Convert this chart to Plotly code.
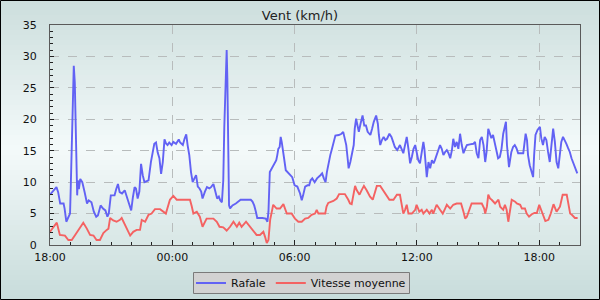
import pandas as pd
import plotly.graph_objects as go

# ---- data (minutes after 18:00, value km/h) ----
rafale_min = [0, 19, 24, 30, 40, 43, 48, 55, 59, 61, 64, 67, 70, 73, 75, 78, 80, 82, 85, 89, 95, 102, 109, 114, 122,
              129, 136, 141, 149, 156, 163, 169, 173, 179, 190, 195, 200, 205, 212, 220, 227, 233, 239, 244, 249, 253,
              258, 263, 268, 273, 278, 290, 297, 307, 312, 317, 322, 327, 332, 337, 342, 346, 351, 358, 363, 371, 379,
              383, 391, 396, 401, 405, 410, 415, 420, 425, 430, 435, 440, 445, 449, 456, 462, 469, 474, 481, 486, 492,
              497, 501, 506, 510, 513, 517, 520, 522, 524, 527, 530, 537, 547, 561, 576, 591, 596, 601, 606, 610, 625,
              635, 640, 643, 647, 653, 659, 666, 669, 672, 676, 679, 682, 685, 689, 694, 704, 713, 720, 728, 736, 741,
              745, 751, 758, 763, 767, 772, 779, 786, 796, 801, 806, 811, 815, 820, 825, 830, 835, 840, 850, 858, 863,
              867, 872, 876, 879, 884, 889, 894, 897, 901, 904, 909, 914, 920, 925, 930, 935, 943, 948, 953, 960, 965,
              968, 972, 977, 982, 987, 992, 999, 1005, 1010, 1015, 1022, 1026, 1030, 1040, 1045, 1050, 1055, 1060, 1065,
              1070, 1075, 1080, 1084, 1089, 1094, 1099, 1102, 1106, 1109, 1114, 1119, 1124, 1129, 1133, 1138, 1143,
              1148, 1153, 1158, 1163, 1168, 1173, 1178, 1183, 1187, 1192, 1197, 1202, 1207, 1212, 1217, 1222, 1227,
              1236, 1246, 1251, 1256, 1261, 1266, 1271, 1276, 1281, 1285, 1290, 1299, 1304, 1309, 1314, 1319, 1324,
              1329, 1334, 1342, 1345, 1348, 1351, 1355, 1358, 1363, 1368, 1373, 1378, 1393, 1397, 1400, 1404, 1407,
              1412, 1417, 1422, 1425, 1429, 1435, 1442, 1446, 1451, 1456, 1461, 1466, 1471, 1476, 1481, 1486, 1491,
              1496, 1500, 1505, 1510, 1515, 1520, 1525, 1530, 1535, 1540, 1545, 1549, 1552]
rafale_val = [8.0, 9.2, 8.4, 6.6, 6.6, 5.8, 3.7, 4.5, 5.0, 9.0, 16.6, 24.5, 28.5, 25.8, 20.5, 10.5, 7.9, 10.3, 8.9,
              10.5, 10.0, 8.4, 6.6, 7.1, 6.8, 5.3, 4.5, 4.7, 6.3, 5.8, 5.5, 4.5, 5.0, 7.9, 7.9, 8.9, 9.7, 8.4, 8.2,
              8.7, 7.6, 6.3, 5.5, 7.6, 9.2, 9.0, 7.4, 8.5, 12.9, 11.1, 10.0, 10.3, 13.2, 16.1, 16.3, 14.7, 13.8, 11.3,
              13.2, 16.8, 16.1, 15.9, 16.3, 15.9, 16.4, 16.1, 16.8, 16.3, 15.9, 16.9, 17.6, 15.9, 14.3, 11.6, 10.0,
              10.6, 11.1, 9.3, 9.0, 8.5, 7.4, 8.5, 9.2, 9.0, 9.2, 9.7, 8.5, 7.4, 7.7, 7.1, 6.8, 10.3, 18.7, 26.7,
              31.0, 26.5, 19.0, 6.3, 5.8, 6.3, 6.6, 7.2, 7.2, 7.2, 6.9, 6.3, 5.3, 4.3, 4.3, 4.2, 3.7, 5.3, 11.6, 12.2,
              13.0, 13.5, 14.3, 15.3, 15.6, 17.2, 16.4, 14.8, 13.8, 11.9, 11.4, 10.8, 9.5, 9.3, 8.2, 7.1, 7.9, 9.3,
              9.5, 9.5, 10.3, 10.6, 10.0, 10.6, 11.1, 11.4, 10.6, 10.0, 11.6, 13.2, 14.3, 15.3, 16.4, 17.4, 17.5,
              17.7, 18.0, 16.9, 15.9, 13.8, 12.2, 13.2, 14.6, 15.9, 18.5, 20.1, 19.3, 18.0, 19.3, 20.6, 19.0, 19.0,
              18.0, 17.5, 18.5, 19.6, 20.6, 19.3, 17.5, 15.9, 16.7, 17.2, 16.7, 16.9, 17.7, 17.2, 16.4, 15.6, 15.1,
              15.6, 15.9, 14.6, 15.9, 17.2, 15.3, 13.0, 14.0, 15.3, 15.9, 14.8, 13.5, 13.0, 14.8, 16.4, 15.3, 13.2,
              10.8, 13.2, 12.2, 13.5, 13.0, 13.5, 14.3, 14.8, 15.9, 15.3, 14.3, 14.8, 15.1, 14.6, 13.8, 15.1, 16.9,
              15.6, 16.4, 15.3, 17.7, 15.9, 14.6, 15.3, 15.9, 16.0, 16.1, 16.4, 14.6, 13.8, 16.7, 17.2, 15.9, 13.2,
              14.8, 18.5, 17.0, 17.5, 16.4, 14.8, 13.8, 14.0, 15.3, 17.7, 19.6, 15.9, 13.8, 12.4, 13.8, 14.8, 15.6,
              15.9, 15.4, 14.6, 14.6, 16.4, 17.7, 16.7, 14.3, 12.7, 11.6, 10.8, 14.3, 17.5, 18.3, 18.8, 17.0, 15.9,
              17.2, 16.7, 14.8, 13.2, 15.9, 18.5, 16.4, 13.2, 12.2, 14.3, 16.4, 17.2, 16.7, 16.1, 15.4, 14.8, 13.8,
              13.0, 12.2, 11.6, 11.4]

moyenne_min = [0, 20, 29, 44, 54, 64, 74, 88, 98, 108, 118, 128, 137, 147, 157, 167, 172, 177, 186, 196, 206, 211,
               221, 231, 236, 245, 255, 265, 270, 280, 290, 299, 309, 324, 334, 341, 353, 363, 373, 412, 417, 422,
               432, 441, 449, 461, 481, 491, 499, 510, 520, 530, 540, 550, 557, 564, 577, 589, 599, 608, 618, 628,
               633, 638, 643, 648, 657, 667, 677, 687, 697, 711, 721, 731, 741, 751, 760, 770, 780, 785, 790, 810,
               814, 819, 834, 844, 851, 868, 878, 883, 888, 893, 898, 903, 911, 917, 924, 932, 942, 950, 957, 962,
               972, 981, 991, 999, 1011, 1021, 1030, 1035, 1040, 1045, 1050, 1055, 1065, 1075, 1079, 1087, 1094,
               1099, 1109, 1117, 1124, 1128, 1138, 1148, 1156, 1163, 1168, 1178, 1187, 1197, 1210, 1217, 1222, 1227,
               1236, 1241, 1271, 1278, 1281, 1286, 1290, 1295, 1300, 1305, 1310, 1315, 1320, 1325, 1330, 1334, 1339,
               1344, 1349, 1354, 1359, 1369, 1374, 1384, 1389, 1398, 1403, 1410, 1418, 1426, 1433, 1440, 1445, 1452,
               1458, 1467, 1474, 1482, 1487, 1491, 1501, 1509, 1521, 1526, 1531, 1536, 1545, 1553]
moyenne_val = [2.1, 3.55, 1.6, 1.5, 0.8, 0.8, 1.6, 2.65, 3.55, 2.65, 1.6, 1.5, 0.8, 0.8, 1.9, 2.4, 2.6, 4.3, 3.9,
               3.7, 4.0, 4.3, 3.2, 1.9, 1.5, 2.1, 2.4, 2.4, 4.0, 3.7, 4.8, 5.0, 5.7, 5.7, 5.3, 5.0, 7.2, 7.8, 7.2,
               7.2, 6.2, 5.0, 5.3, 4.5, 2.9, 4.2, 4.2, 3.7, 2.9, 2.8, 2.3, 2.9, 3.7, 2.9, 3.55, 2.9, 3.7, 2.9, 2.3,
               1.6, 1.6, 2.1, 1.3, 0.3, 0.8, 4.0, 6.4, 5.8, 5.8, 6.5, 5.0, 5.0, 4.2, 3.7, 3.7, 4.2, 4.3, 4.8, 5.0,
               5.6, 5.0, 5.0, 6.1, 6.7, 7.0, 7.4, 8.1, 8.1, 7.2, 6.6, 6.5, 7.7, 9.4, 8.7, 8.0, 8.7, 9.4, 8.7, 7.7,
               7.2, 8.5, 9.4, 9.4, 8.7, 8.0, 7.2, 7.2, 8.0, 8.0, 6.6, 5.0, 5.6, 6.4, 5.0, 5.0, 5.6, 6.4, 5.3, 5.6,
               5.0, 5.6, 5.0, 5.6, 5.0, 6.4, 5.6, 5.0, 5.8, 6.4, 5.8, 6.4, 6.6, 6.6, 5.3, 4.2, 4.5, 5.8, 6.6, 6.6,
               5.8, 5.0, 6.1, 8.0, 7.4, 7.2, 6.9, 6.6, 6.9, 7.2, 6.1, 5.8, 5.6, 6.4, 5.6, 3.7, 5.6, 7.2, 6.9, 6.6,
               6.4, 5.8, 5.8, 5.0, 4.5, 4.9, 5.1, 5.1, 6.4, 5.6, 4.5, 3.8, 4.0, 5.0, 6.5, 5.8, 5.3, 6.1, 8.0, 8.0,
               6.4, 5.0, 4.8, 4.3, 4.3]

start = pd.Timestamp("2024-01-01 18:00")
end = pd.Timestamp("2024-01-02 20:00")
rafale_t = [start + pd.Timedelta(minutes=m) for m in rafale_min]
moyenne_t = [start + pd.Timedelta(minutes=m) for m in moyenne_min]

FONT = "DejaVu Sans"
W, H = 600, 300
ML, MR, MT, MB = 50, 20, 25, 55
PW, PH = W - ML - MR, H - MT - MB

fig = go.Figure()
fig.add_trace(go.Scatter(x=rafale_t, y=rafale_val, mode="lines", name="Rafale",
                         line=dict(color="#6262f4", width=1.9)))
fig.add_trace(go.Scatter(x=moyenne_t, y=moyenne_val, mode="lines", name="Vitesse moyenne",
                         line=dict(color="#f46262", width=1.9)))

# background gradient (styling only)
def px_to_py(py):
    return (MT + PH - py) / PH

def px_to_px(px):
    return (px - ML) / PW

stops = [(0, (204, 222, 221)), (150, (244, 250, 250)), (300, (199, 219, 218))]
def col(py):
    for (a, ca), (b, cb) in zip(stops[:-1], stops[1:]):
        if a <= py <= b:
            f = (py - a) / (b - a)
            return "rgb(%d,%d,%d)" % tuple(round(ca[i] + (cb[i] - ca[i]) * f) for i in range(3))
    return "rgb(%d,%d,%d)" % stops[-1][1]

shapes = []
band = 5
for py in range(0, H, band):
    shapes.append(dict(type="rect", xref="paper", yref="paper",
                       x0=px_to_px(0), x1=px_to_px(W),
                       y0=px_to_py(py + band), y1=px_to_py(py),
                       fillcolor=col(py + band / 2), line=dict(width=0), layer="below"))
# legend box
shapes.append(dict(type="rect", xref="paper", yref="paper",
                   x0=px_to_px(193.5), x1=px_to_px(409.5), y0=px_to_py(293.5), y1=px_to_py(272.5),
                   fillcolor="#d2d2d2", line=dict(color="#7a7a7a", width=1), layer="below"))
# outer frame
shapes.append(dict(type="rect", xref="paper", yref="paper",
                   x0=px_to_px(0.5), x1=px_to_px(W - 0.5),
                   y0=px_to_py(H - 0.5), y1=px_to_py(0.5),
                   line=dict(color="black", width=1), fillcolor="rgba(0,0,0,0)", layer="above"))

fig.update_layout(
    width=W, height=H,
    margin=dict(l=ML, r=MR, t=MT, b=MB, autoexpand=False),
    paper_bgcolor="#dfeceb",
    plot_bgcolor="rgba(0,0,0,0)",
    font=dict(family=FONT, size=11, color="#111"),
    title=dict(text="Vent (km/h)", x=0.5, xanchor="center", y=1 - 15 / H, yanchor="middle",
               font=dict(family=FONT, size=13, color="#222")),
    shapes=shapes,
    showlegend=True,
    legend=dict(orientation="h", x=px_to_px(301), xanchor="center", y=px_to_py(283), yanchor="middle",
                bgcolor="rgba(0,0,0,0)", borderwidth=0,
                font=dict(family=FONT, size=11, color="#111"), itemwidth=30),
    xaxis=dict(type="date", range=[start, end], tickformat="%H:%M", tick0=start, dtick=6 * 3600000,
               showgrid=True, gridcolor="#b8bcbc", griddash="dash", gridwidth=1,
               showline=True, linecolor="#5a5a5a", linewidth=1, mirror=True,
               ticks="inside", ticklen=5, tickcolor="#222", ticklabelstandoff=2,
               minor=dict(ticks="inside", ticklen=3, dtick=3600000, tick0=start, tickcolor="#222", showgrid=False),
               zeroline=False, tickfont=dict(family=FONT, size=11, color="#111")),
    yaxis=dict(range=[0, 35], dtick=5, tick0=0,
               showgrid=True, gridcolor="#b8bcbc", griddash="dash", gridwidth=1,
               showline=True, linecolor="#5a5a5a", linewidth=1, mirror=True,
               ticks="inside", ticklen=4, tickcolor="#222", ticklabelstandoff=10,
               minor=dict(ticks="inside", ticklen=3, dtick=1, tickcolor="#222", showgrid=False),
               zeroline=False, tickfont=dict(family=FONT, size=11, color="#111")),
)

fig.write_html("out.html")
